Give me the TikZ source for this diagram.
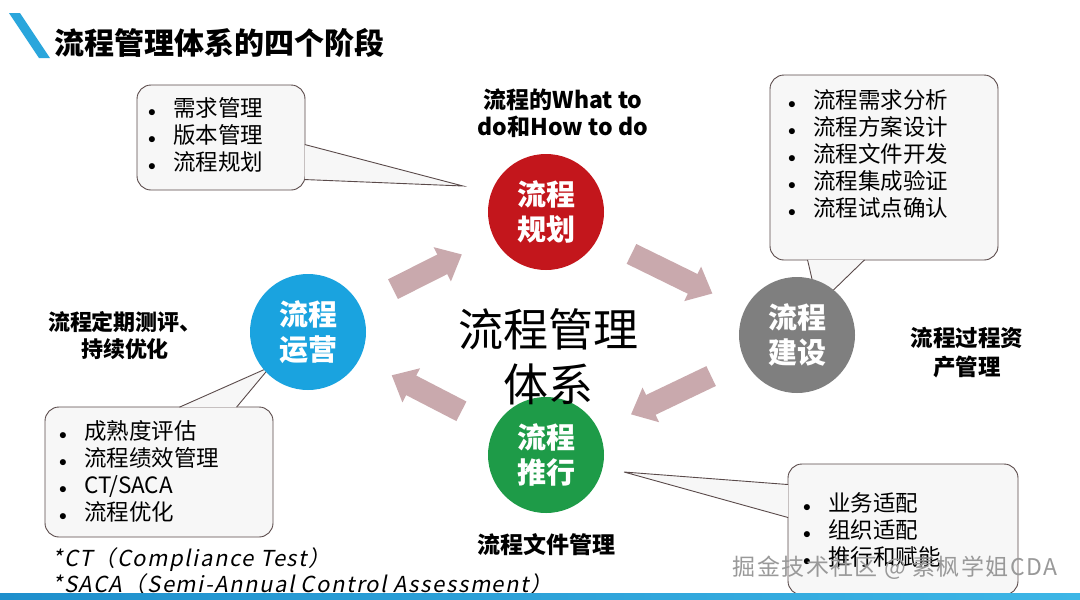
\documentclass[tikz,border=0pt]{standalone}
\usepackage{fontspec}
\setmainfont{Noto Sans CJK SC}
\newfontfamily\notefont[FakeSlant=0.2, LetterSpace=7]{Noto Sans CJK SC}
\newfontfamily\markfont[LetterSpace=6]{Noto Sans CJK SC}
\usetikzlibrary{positioning,calc,arrows.meta}
\definecolor{planred}{HTML}{C3161C}
\definecolor{buildgrey}{HTML}{7F7F7F}
\definecolor{pushgreen}{HTML}{1E9B48}
\definecolor{opsblue}{HTML}{1AA3DF}
\definecolor{flowpink}{HTML}{C9A9AD}
\definecolor{boxline}{HTML}{5A4A4A}
\definecolor{boxfill}{HTML}{F7F7F7}
\definecolor{titleblue}{HTML}{2AA6DC}
\definecolor{barleft}{HTML}{1E8FCC}
\definecolor{barright}{HTML}{3DB6E6}
\tikzset{
  stage/.style   ={circle, minimum size=116pt, inner sep=0pt, text=white,
                   align=center, font=\fontsize{29}{35}\selectfont\bfseries},
  callbox/.style ={rectangle, rounded corners=14pt, draw=boxline, fill=boxfill,
                   line width=0.9pt, inner sep=0pt},
  ptr/.style     ={draw=boxline, fill=boxfill, line width=0.9pt},
  lst/.style     ={align=left, anchor=west, inner sep=0pt,
                   font=\fontsize{22.5}{27}\selectfont},
  note/.style    ={align=center, inner sep=0pt,
                   font=\fontsize{22}{27}\selectfont\bfseries},
  flow/.style    ={line width=22pt, draw=flowpink, -{Triangle[width=37pt,length=22pt]},
                   shorten <=37pt, shorten >=36pt}
}
\newcommand{\itm}[1]{\makebox[25pt][l]{\raisebox{0.5pt}{\scalebox{0.75}{$\bullet$}}}#1}

\begin{document}
\begin{tikzpicture}[x=1pt, y=-1pt]
  \useasboundingbox[fill=white] (0,0) rectangle (1080,600);

  % title
  \fill[titleblue] (9,13) -- (20,13) -- (50,58) -- (39,58) -- cycle;
  \node[anchor=west, inner sep=0pt, font=\fontsize{30}{36}\selectfont\bfseries] (title) at (54,43)
    {流程管理体系的四个阶段};

  % callouts
  \node[callbox, minimum width=168pt, minimum height=105pt] (needbox) at (221,137.5) {};
  \coordinate (needtip) at (463,186);
  \draw[ptr] ($(needbox.north east)+(-0.6,60)$) -- (needtip) -- ($(needbox.north east)+(-0.6,95)$);
  \node[lst] (needlist) at (148,135) {\itm{需求管理}\\\itm{版本管理}\\\itm{流程规划}};

  \node[callbox, minimum width=228pt, minimum height=185pt] (buildbox) at (884,167.5) {};
  \coordinate (buildtip) at (818,305);
  \draw[ptr] ($(buildbox.south west)+(38,-0.6)$) -- (buildtip) -- ($(buildbox.south west)+(95,-0.6)$);
  \node[lst] (buildlist) at (788,154)
    {\itm{流程需求分析}\\\itm{流程方案设计}\\\itm{流程文件开发}\\\itm{流程集成验证}\\\itm{流程试点确认}};

  \node[callbox, minimum width=228pt, minimum height=130pt] (opsbox) at (159,472) {};
  \coordinate (opstip) at (270,367);
  \draw[ptr] ($(opsbox.north west)+(135,0.6)$) -- (opstip) -- ($(opsbox.north west)+(192,0.6)$);
  \node[lst] (opslist) at (59,471.5)
    {\itm{成熟度评估}\\\itm{流程绩效管理}\\\itm{CT/SACA}\\\itm{流程优化}};

  \node[callbox, minimum width=230pt, minimum height=131pt] (pushbox) at (903,529.5) {};
  \coordinate (pushtip) at (624,472);
  \draw[ptr] ($(pushbox.north west)+(0.6,21)$) -- (pushtip) -- ($(pushbox.north west)+(0.6,54)$);
  \node[lst] (pushlist) at (803,530) {\itm{业务适配}\\\itm{组织适配}\\\itm{推行和赋能}};

  % four stages
  \node[stage, fill=planred]   (plan)  at (546,212) {流程\\规划};
  \node[stage, fill=buildgrey] (build) at (797,335) {流程\\建设};
  \node[stage, fill=pushgreen] (push)  at (546,455) {流程\\推行};
  \node[stage, fill=opsblue]   (ops)   at (308,332) {流程\\运营};

  \draw[flow] (ops) -- (plan);
  \draw[flow] (plan) -- (build);
  \draw[flow] (build) -- (push);
  \draw[flow] (push) -- (ops);

  \node[inner sep=0pt, align=center, font=\fontsize{45}{55}\selectfont] (core) at (548,357)
    {流程管理\\体系};

  % side notes
  \node[note, font=\fontsize{23}{27}\selectfont\bfseries] (plannote) at (563,113) {流程的What to\\do和How to do};
  \node[note, font=\fontsize{22.5}{29}\selectfont\bfseries] (buildnote) at (967,353) {流程过程资\\产管理};
  \node[note] (opsnote) at (125,336) {流程定期测评、\\持续优化};
  \node[note, font=\fontsize{23}{27}\selectfont\bfseries, below=20pt of push] (pushnote) {流程文件管理};

  % footnotes
  \node[anchor=base west, inner sep=0pt, font=\notefont\fontsize{22}{27}\selectfont] (ctnote) at (52,566)
    {*CT（Compliance Test）};
  \node[anchor=base west, inner sep=0pt, font=\notefont\fontsize{22}{27}\selectfont] (sacanote) at (52,592)
    {*SACA（Semi-Annual Control Assessment）};
  \node[inner sep=0pt, text=black!40, font=\markfont\fontsize{23}{27}\selectfont] (mark) at (895,568)
    {掘金技术社区 @ 素枫学姐CDA};

  \shade[left color=barleft, right color=barright] (0,593) rectangle (1080,600);
\end{tikzpicture}
\end{document}
